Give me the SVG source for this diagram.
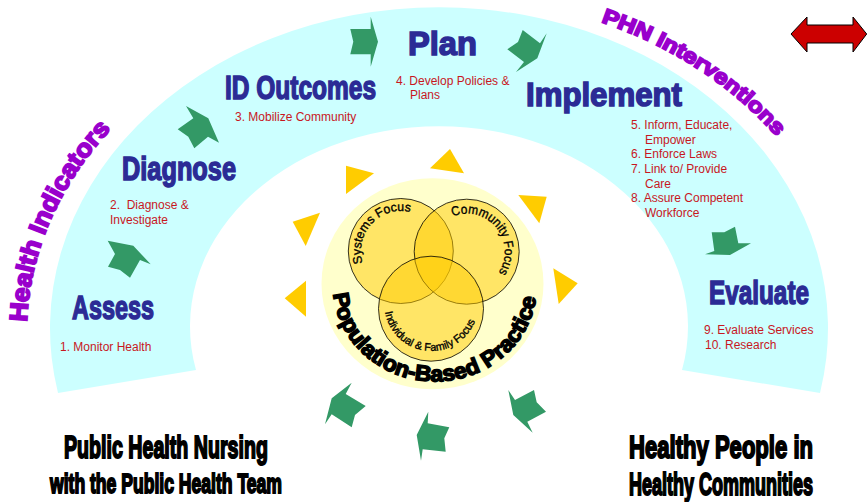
<svg xmlns="http://www.w3.org/2000/svg" width="867" height="502" viewBox="0 0 867 502">
<style>
text{font-family:"Liberation Sans",Arial,sans-serif}
.h{font-family:"Liberation Sans Narrow","Liberation Sans",Arial,sans-serif;font-weight:bold;font-size:33px;fill:#2b2b95;stroke:#2b2b95;stroke-width:1.5px}
.r{font-size:12px;fill:#c8171e}
.k{font-weight:bold;fill:#000;stroke:#000;stroke-width:2px}
.pop{font-size:22px;font-weight:bold;stroke:#000;stroke-width:1.5px}
.p{font-weight:bold;fill:#9900cc;stroke:#9900cc;stroke-width:1.8px}
.g{fill:#339966}
.y{fill:#ffcc00}
.v{fill:#ffcc00;fill-opacity:.5;stroke:#000;stroke-width:.8px}
.c{font-size:12.5px;fill:#000;stroke:#000;stroke-width:.35px}
</style>
<defs>
<path id="pHealth" d="M27 322A412 336 0 0 1 112 128"/>
<path id="pPhn" d="M601 22A412 336 0 0 1 776 136"/>
<path id="pSys" d="M362.8 263A40 40 0 0 1 408.8 211.8"/>
<path id="pCom" d="M452.7 216.4A38 38 0 0 1 499.7 270.7"/>
<path id="pInd" d="M385 312A47 47 0 0 0 477 315"/>
<path id="pPop" d="M333.4 294A102 96 0 0 0 536.6 294"/>
</defs>
<path id="band" d="M58 393A389 321 0 1 1 820 393L682 370A249 200 0 1 0 196 370Z" fill="#ccffff"/>
<g id="hub">
<ellipse cx="432.5" cy="283.7" rx="111" ry="105.5" fill="#ffffcc"/>
<circle class="v" cx="400.8" cy="251" r="52.5"/>
<circle class="v" cx="466.7" cy="251.7" r="52.5"/>
<circle class="v" cx="431" cy="308.7" r="52.5"/>
<text class="c"><textPath href="#pSys" textLength="84" lengthAdjust="spacingAndGlyphs">Systems Focus</textPath></text>
<text class="c" style="font-size:13px"><textPath href="#pCom" textLength="96" lengthAdjust="spacingAndGlyphs">Community Focus</textPath></text>
<text class="c" style="font-size:11px"><textPath href="#pInd" textLength="122" lengthAdjust="spacingAndGlyphs">Individual &amp; Family Focus</textPath></text>
<text class="pop"><textPath href="#pPop" textLength="290" lengthAdjust="spacingAndGlyphs">Population-Based Practice</textPath></text>
</g>
<g id="rays">
<polygon class="y" points="450,149 464,173.3 430,168.3"/>
<polygon class="y" points="346,165.7 374,173.3 346,194"/>
<polygon class="y" points="518.3,195 546.7,196.7 539.3,223.3"/>
<polygon class="y" points="292.7,221.7 320,212.7 305.7,246"/>
<polygon class="y" points="553.3,268.3 577.7,283.3 558.7,304"/>
<polygon class="y" points="284.7,298.3 306,280.7 306,316.7"/>
</g>
<g id="connectors">
<polygon class="g" points="107.7,240.7 133.3,245.7 150.7,264.3 140,260 130,277.7 120,270 108,266.7 115,254"/>
<polygon class="g" points="186,106 208.3,118.3 219,142.7 208,136.7 194.3,148.3 188.3,136.7 177.7,129.3 193.3,118.3"/>
<polygon class="g" points="350.3,29 370.7,29 370.7,16.7 378,41.7 370.7,66.7 370.7,54.3 350.3,54.3 353.3,41.7"/>
<polygon class="g" points="522.7,30 540,43.3 546.7,33.3 537.3,58.3 516,72 524,62 507.3,49.3 518,42"/>
<polygon class="g" points="711.7,232.3 724.3,232.3 735,226.7 738.3,243.3 751,243.3 730,255 705,254.3 714.3,251"/>
<polygon class="g" points="351.7,382.7 331.7,398.3 325,424.3 331.7,414.3 351.7,427.3 355,415 365.7,406 345.7,394"/>
<polygon class="g" points="428.3,411.7 416.7,435 421,460.7 422.7,449.3 445.7,451.7 444.3,438.3 449.3,427.3 427.7,423.3"/>
<polygon class="g" points="508.3,390 513.3,415 532.7,432.7 527.3,421.7 546,411.7 536.7,402.3 534,390 515,400"/>
</g>
<g id="assess">
<text class="h" x="72" y="319" textLength="82" lengthAdjust="spacingAndGlyphs">Assess</text>
<text class="r" x="60" y="351">1. Monitor Health</text>
</g>
<g id="diagnose">
<text class="h" x="122" y="180" textLength="114" lengthAdjust="spacingAndGlyphs">Diagnose</text>
<text class="r" x="110" y="209" xml:space="preserve">2.  Diagnose &amp;</text>
<text class="r" x="110" y="224">Investigate</text>
</g>
<g id="id-outcomes">
<text class="h" x="225" y="99" textLength="151" lengthAdjust="spacingAndGlyphs">ID Outcomes</text>
<text class="r" x="235" y="121">3. Mobilize Community</text>
</g>
<g id="plan">
<text class="h" x="408" y="55" textLength="69" lengthAdjust="spacingAndGlyphs">Plan</text>
<text class="r" x="396" y="85">4. Develop Policies &amp;</text>
<text class="r" x="410" y="99">Plans</text>
</g>
<g id="implement">
<text class="h" x="526" y="106" textLength="156" lengthAdjust="spacingAndGlyphs">Implement</text>
<text class="r" x="631" y="129">5. Inform, Educate,</text>
<text class="r" x="645" y="144">Empower</text>
<text class="r" x="631" y="158">6. Enforce Laws</text>
<text class="r" x="631" y="173">7. Link to/ Provide</text>
<text class="r" x="645" y="188">Care</text>
<text class="r" x="631" y="202">8. Assure Competent</text>
<text class="r" x="645" y="217">Workforce</text>
</g>
<g id="evaluate">
<text class="h" x="709" y="304" textLength="100" lengthAdjust="spacingAndGlyphs">Evaluate</text>
<text class="r" x="704" y="334">9. Evaluate Services</text>
<text class="r" x="705" y="349">10. Research</text>
</g>
<g id="side-labels">
<text class="p" style="font-size:25px"><textPath href="#pHealth" textLength="215" lengthAdjust="spacingAndGlyphs">Health Indicators</textPath></text>
<text class="p" style="font-size:21px"><textPath href="#pPhn" textLength="212" lengthAdjust="spacingAndGlyphs">PHN Interventions</textPath></text>
</g>
<polygon id="double-arrow" points="791,34 807,17 807,25 853,25 853,17 866.7,34 853,52 853,43 807,43 807,52" fill="#cc0000" stroke="#000" stroke-width="1"/>
<g id="team">
<text class="k" transform="translate(64 458) scale(.7 1)" font-size="32" textLength="291.4" lengthAdjust="spacingAndGlyphs">Public Health Nursing</text>
<text class="k" transform="translate(50 493) scale(.7 1)" font-size="28" textLength="331.4" lengthAdjust="spacingAndGlyphs">with the Public Health Team</text>
</g>
<g id="community">
<text class="k" transform="translate(629 458) scale(.7 1)" font-size="32" textLength="262.9" lengthAdjust="spacingAndGlyphs">Healthy People in</text>
<text class="k" transform="translate(629 495) scale(.7 1)" font-size="32" textLength="262.9" lengthAdjust="spacingAndGlyphs">Healthy Communities</text>
</g>
</svg>
